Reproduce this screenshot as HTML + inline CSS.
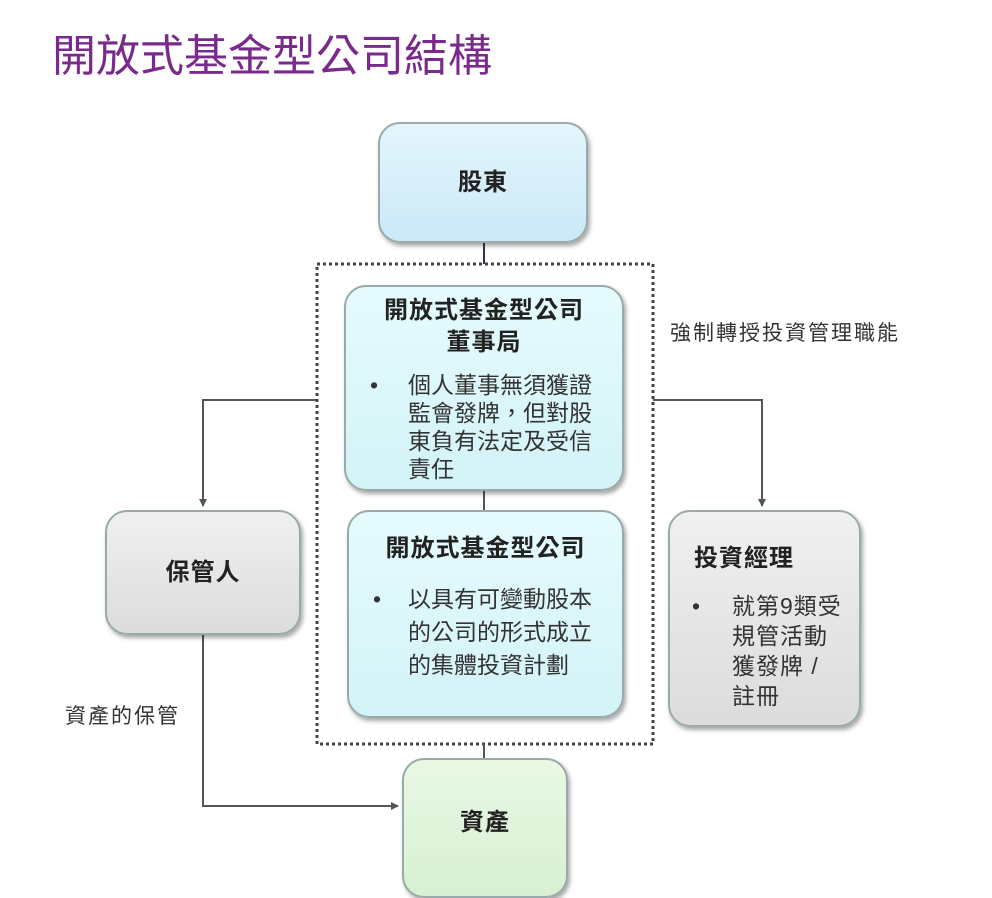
<!DOCTYPE html>
<html><head><meta charset="utf-8"><style>
body{margin:0;width:992px;height:886px;background:#fff;overflow:hidden;position:relative;font-family:"Liberation Sans","Noto Sans CJK TC",sans-serif;color:#222}
.t{position:absolute;left:52px;top:20px;font-size:44px;color:#7a2a8c;letter-spacing:0px}
.b{position:absolute;box-sizing:border-box;border-radius:22px;border:2px solid #9aa;box-shadow:2px 3px 4px rgba(0,0,0,.35)}
.lbl{position:absolute;font-size:21px;color:#333;letter-spacing:2px}
.h{font-weight:bold;font-size:24px;text-align:center;letter-spacing:1px}
.bl{position:relative;font-size:23px;line-height:28px;color:#333;white-space:nowrap}
.bl span{position:absolute;left:0;top:0}
</style></head><body>
<div class="t">開放式基金型公司結構</div>
<svg width="992" height="886" style="position:absolute;left:0;top:0">
<defs><marker id="a" markerWidth="8" markerHeight="8" refX="7" refY="4" orient="auto" markerUnits="userSpaceOnUse"><path d="M0,0 L8,4 L0,8z" fill="#555"/></marker></defs>
<rect x="317" y="264" width="336" height="480" fill="none" stroke="#444" stroke-width="3" stroke-dasharray="3,3"/>
<g stroke="#555" stroke-width="2" fill="none">
<line x1="484" y1="243" x2="484" y2="264" stroke="#335"/>
<line x1="484" y1="491" x2="484" y2="510"/>
<line x1="484" y1="744" x2="484" y2="758"/>
<polyline points="316,400 203,400 203,506" marker-end="url(#a)"/>
<polyline points="653,400 762,400 762,506" marker-end="url(#a)"/>
<polyline points="203,635 203,806 398,806" marker-end="url(#a)"/>
</g></svg>
<div class="b h" style="left:378px;top:122px;width:210px;height:121px;background:linear-gradient(#e4f5fc,#cbe9f7);line-height:117px">股東</div>
<div class="b" style="left:344px;top:285px;width:280px;height:206px;background:linear-gradient(#e6fbfd,#d2f3f7)">
<div class="h" style="margin-top:8px;line-height:32px">開放式基金型公司<br>董事局</div>
<div class="bl" style="margin:12px 0 0 62px"><span style="left:-38px">•</span>個人董事無須獲證<br>監會發牌，但對股<br>東負有法定及受信<br>責任</div></div>
<div class="b" style="left:347px;top:510px;width:277px;height:208px;background:linear-gradient(#e6fbfd,#d2f3f7)">
<div class="h" style="margin-top:16px">開放式基金型公司</div>
<div class="bl" style="margin:20px 0 0 59px;line-height:33px"><span style="left:-35px">•</span>以具有可變動股本<br>的公司的形式成立<br>的集體投資計劃</div></div>
<div class="b h" style="left:105px;top:510px;width:196px;height:125px;background:linear-gradient(#f0f0f0,#dcdcdc);line-height:121px">保管人</div>
<div class="b" style="left:668px;top:510px;width:193px;height:217px;background:linear-gradient(#f0f0f0,#dcdcdc)">
<div class="h" style="text-align:left;margin:26px 0 0 24px">投資經理</div>
<div class="bl" style="margin:18px 0 0 62px;line-height:30px;letter-spacing:1px"><span style="left:-40px">•</span>就第9類受<br>規管活動<br>獲發牌 /<br>註冊</div></div>
<div class="b h" style="left:402px;top:758px;width:166px;height:140px;background:linear-gradient(#e8f8e4,#d8f0d2);padding-top:42px">資產</div>
<div class="lbl" style="left:670px;top:317px">強制轉授投資管理職能</div>
<div class="lbl" style="left:65px;top:700px">資產的保管</div>
</body></html>
